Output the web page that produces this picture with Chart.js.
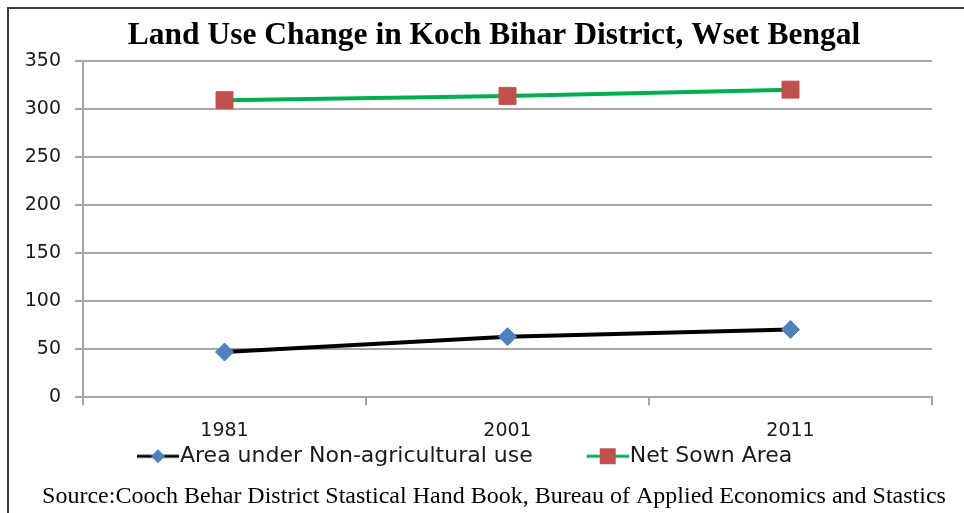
<!DOCTYPE html>
<html>
<head>
<meta charset="utf-8">
<script src="https://cdn.jsdelivr.net/npm/chart.js@4.4.1/dist/chart.umd.min.js"></script>
<style>
  html, body { margin: 0; padding: 0; background: #fff; }
  #wrap { position: relative; width: 964px; height: 513px; overflow: hidden; }
  #frame { position: absolute; left: 7px; top: 7px; width: 1000px; height: 600px;
           border-left: 2px solid #3a3a3a; border-top: 2px solid #3a3a3a; pointer-events: none; }
</style>
</head>
<body>
<div id="wrap">
  <canvas id="landChart" width="964" height="513"></canvas>
  <div id="frame"></div>
</div>
<script>
const years = ['1981', '2001', '2011'];
const nonAgri = [47, 63, 70.5];
const netSown = [309, 313.5, 320];
const yTicks = [0, 50, 100, 150, 200, 250, 300, 350];

// legend icon: short line with the marker, drawn at the right end of the image
// (image is wider than the legend box so the icon sits close to the text)
function legendIcon(lineColor, markerColor, shape) {
    const c = document.createElement('canvas');
    c.width = 103; c.height = 20;
    const g = c.getContext('2d');
    const x0 = 61, x1 = 103, cx = (x0 + x1) / 2;
    g.strokeStyle = lineColor; g.lineWidth = 3;
    g.beginPath(); g.moveTo(x0, 10); g.lineTo(x1, 10); g.stroke();
    g.fillStyle = markerColor;
    g.beginPath();
    if (shape === 'diamond') {
        g.moveTo(cx, 3); g.lineTo(cx + 7, 10); g.lineTo(cx, 17); g.lineTo(cx - 7, 10);
        g.closePath();
    } else {
        g.rect(cx - 8, 2, 16, 16);
    }
    g.fill();
    return c;
}

const tickFont = { family: 'DejaVu Sans', size: 19 };

new Chart(document.getElementById('landChart').getContext('2d'), {
    type: 'line',
    data: {
        labels: years,
        datasets: [{
            label: 'Area under Non-agricultural use',
            data: nonAgri,
            borderColor: '#000000',
            borderWidth: 4,
            pointStyle: 'rectRot',
            pointRadius: 9,
            pointHoverRadius: 9,
            pointBackgroundColor: '#4f81bd',
            pointBorderColor: '#4f81bd',
            pointBorderWidth: 1,
            tension: 0
        }, {
            label: 'Net Sown Area',
            data: netSown,
            borderColor: '#00b050',
            borderWidth: 4,
            pointStyle: 'rect',
            pointRadius: 12,
            pointHoverRadius: 12,
            pointBackgroundColor: '#c0504d',
            pointBorderColor: '#c0504d',
            pointBorderWidth: 1,
            tension: 0
        }]
    },
    options: {
        responsive: false,
        animation: false,
        layout: { padding: { left: 24, right: 0, top: 0, bottom: 0 } },
        scales: {
            x: {
                offset: true,
                afterFit: function (scale) { scale.height = 45; },
                grid: { offset: true, drawOnChartArea: false, drawTicks: true, tickLength: 8, color: '#a6a6a6', lineWidth: 2 },
                border: { color: '#a6a6a6', width: 2 },
                ticks: { color: '#1a1a1a', font: tickFont, padding: 14, maxRotation: 0 }
            },
            y: {
                min: 0,
                max: 350,
                afterBuildTicks: function (scale) {
                    scale.ticks = yTicks.map(function (v) { return { value: v }; });
                },
                afterFit: function (scale) { scale.width = 59; },
                grid: { color: '#a6a6a6', lineWidth: 2, tickLength: 8 },
                border: { color: '#a6a6a6', width: 2 },
                ticks: { color: '#1a1a1a', font: tickFont, padding: 14 }
            },
            // empty right margin so the plot ends where the reference does
            yRight: {
                position: 'right',
                afterFit: function (scale) { scale.width = 32; },
                grid: { display: false },
                border: { display: false },
                ticks: { display: false }
            }
        },
        plugins: {
            title: {
                display: true,
                text: 'Land Use Change in Koch Bihar District, Wset Bengal',
                color: '#000',
                font: { family: 'Liberation Serif', size: 31.5, weight: 'bold' },
                padding: { top: 17, bottom: 6 }
            },
            subtitle: {
                display: true,
                position: 'bottom',
                text: 'Source:Cooch Behar District Stastical Hand Book, Bureau of Applied Economics and Stastics',
                color: '#000',
                font: { family: 'Liberation Serif', size: 24 },
                padding: { top: 5, bottom: 2 }
            },
            legend: {
                position: 'bottom',
                fullSize: false,
                align: 'start',
                labels: {
                    usePointStyle: true,
                    pointStyleWidth: 83,
                    padding: 3,
                    color: '#1a1a1a',
                    font: { family: 'DejaVu Sans', size: 22 },
                    generateLabels: function (chart) {
                        const icons = [
                            legendIcon('#000000', '#4f81bd', 'diamond'),
                            legendIcon('#00b050', '#c0504d', 'square')
                        ];
                        return chart.data.datasets.map(function (ds, i) {
                            return {
                                text: ds.label,
                                pointStyle: icons[i],
                                fillStyle: 'transparent',
                                strokeStyle: 'transparent',
                                lineWidth: 0,
                                fontColor: '#1a1a1a',
                                hidden: false,
                                datasetIndex: i
                            };
                        });
                    }
                }
            },
            tooltip: { enabled: false }
        }
    }
});
</script>
</body>
</html>
